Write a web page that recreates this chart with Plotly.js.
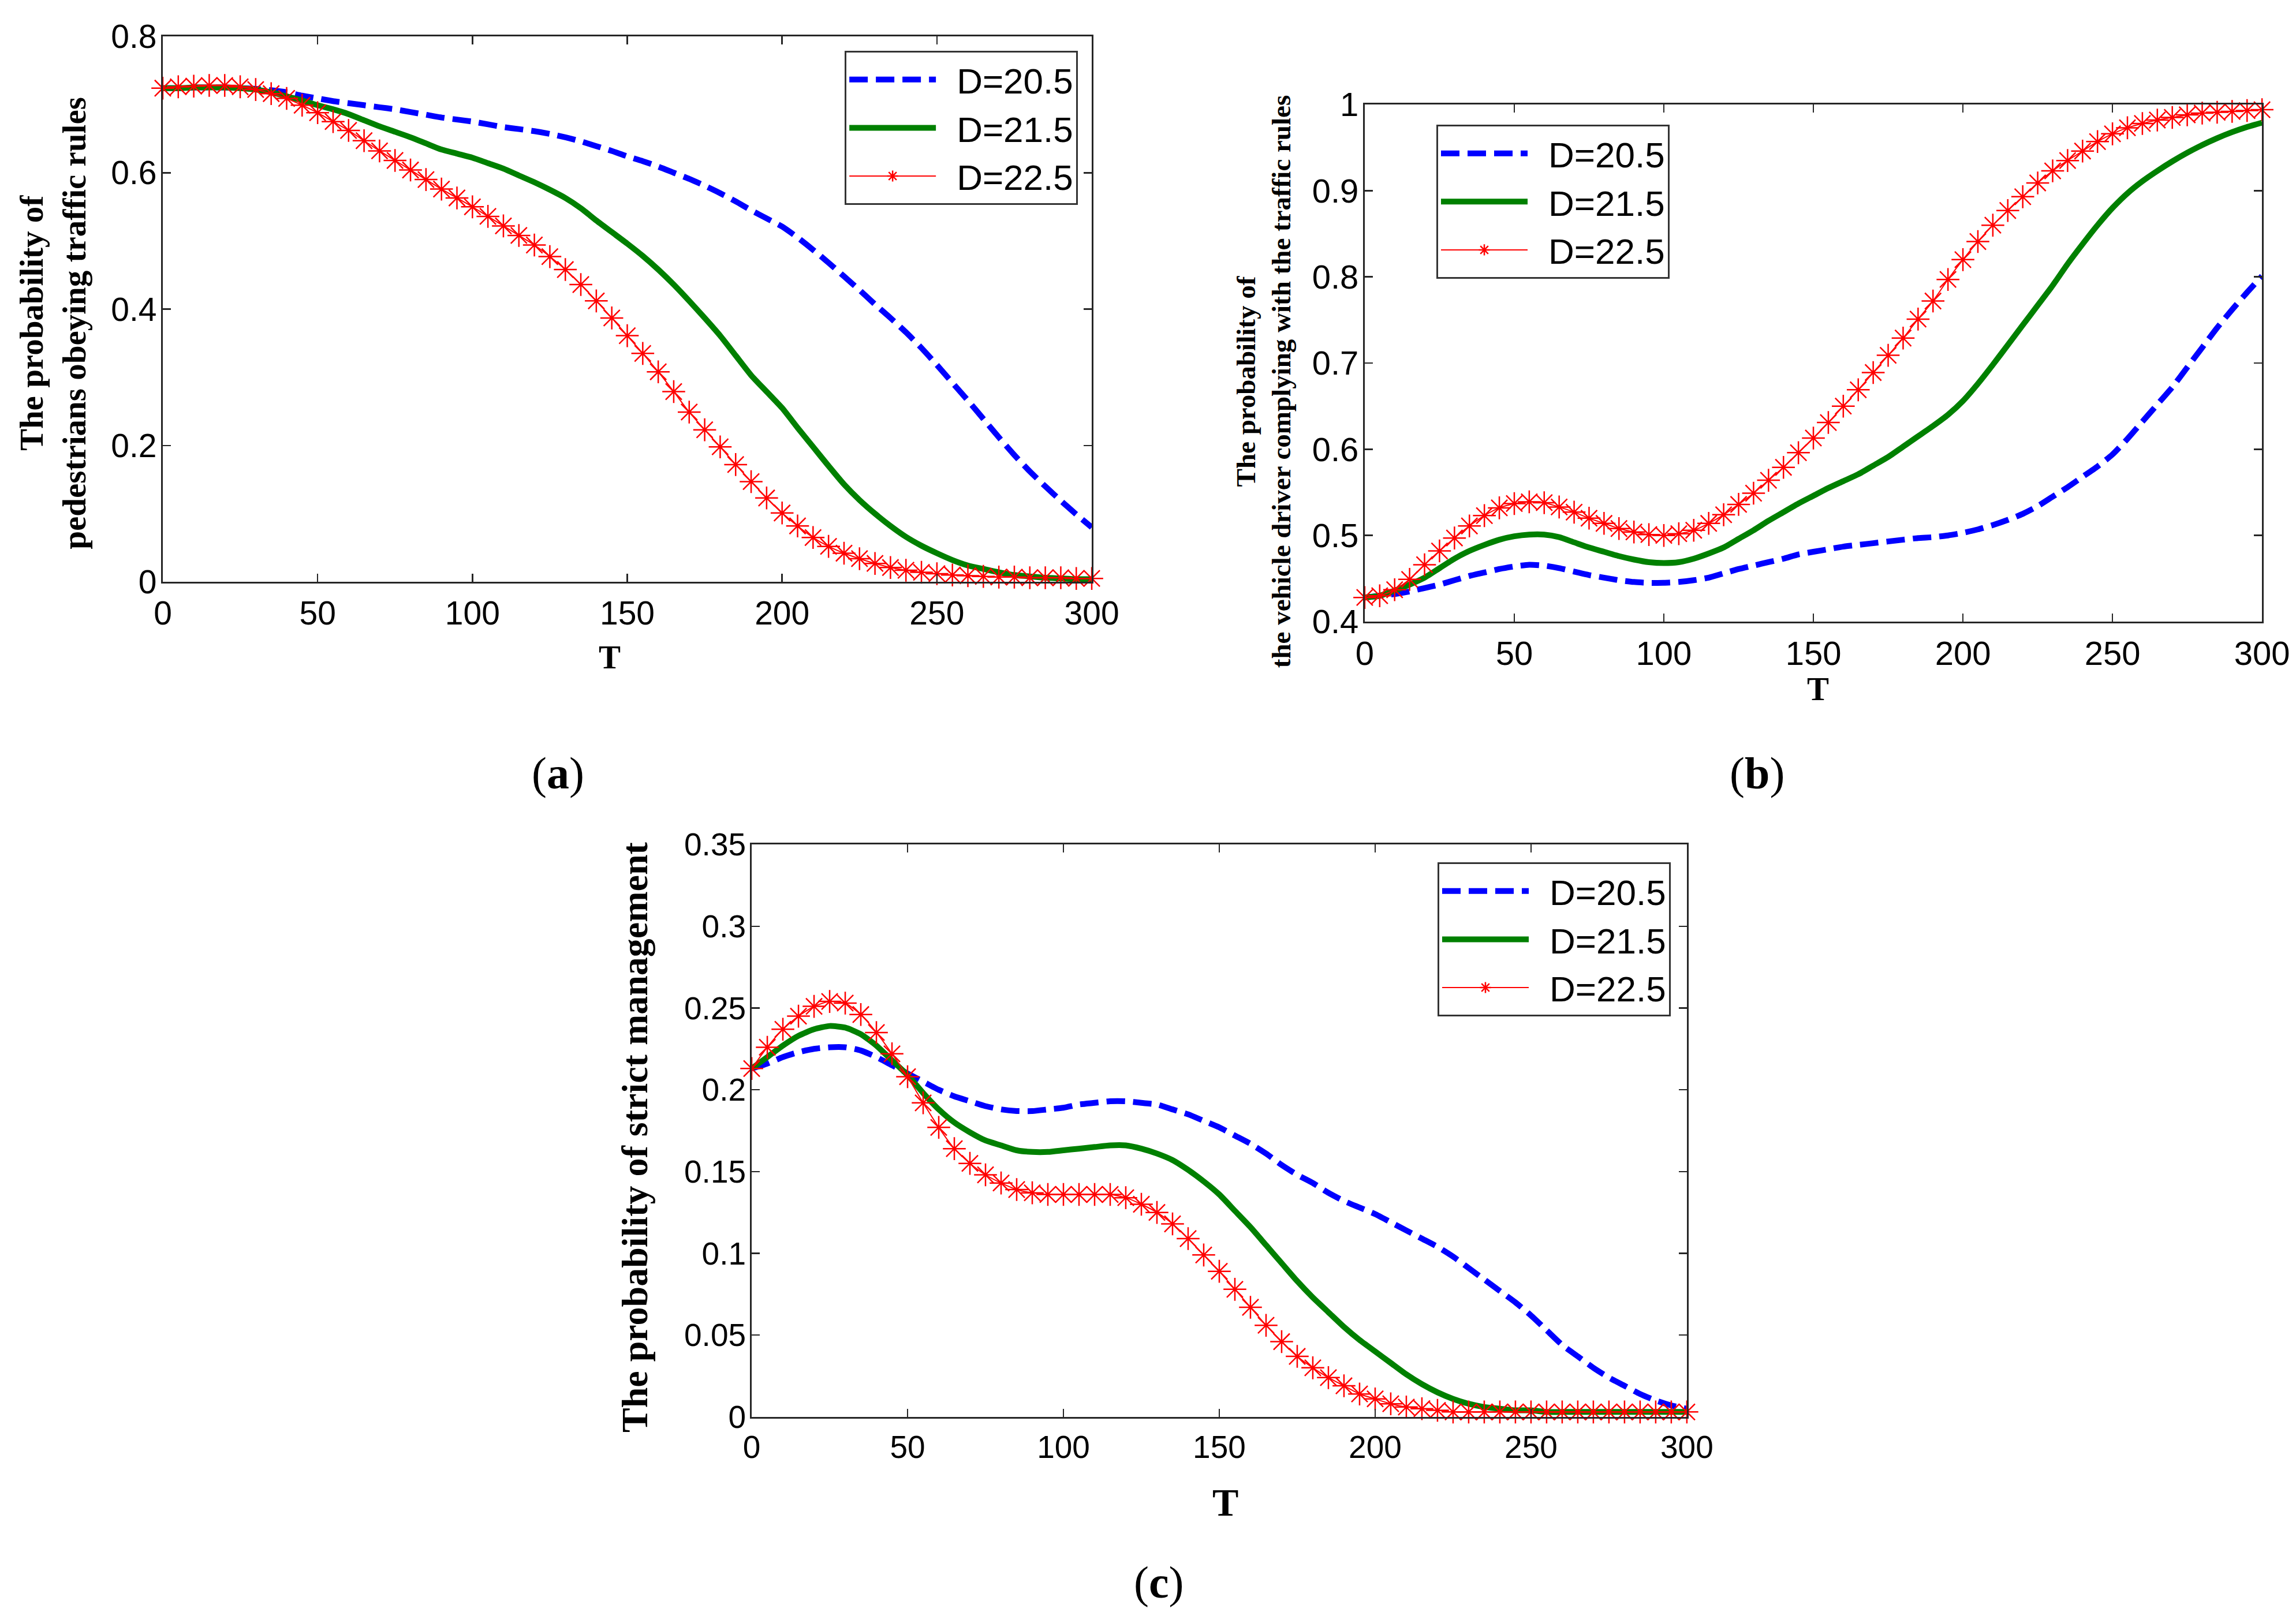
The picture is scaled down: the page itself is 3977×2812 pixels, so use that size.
<!DOCTYPE html>
<html>
<head>
<meta charset="utf-8">
<script src="https://cdn.plot.ly/plotly-3.0.1.min.js"></script>
<style>
  html, body { margin: 0; padding: 0; background: #fff; }
  #fig { width: 3977px; height: 2812px; }
</style>
</head>
<body>
<div id="fig"></div>
<script>
// time axis, read every 5 units
const T = [0,5,10,15,20,25,30,35,40,45,50,55,60,65,70,75,80,85,90,95,100,105,110,115,120,125,130,135,140,145,150,
  155,160,165,170,175,180,185,190,195,200,205,210,215,220,225,230,235,240,245,250,255,260,265,270,275,280,285,290,295,300];
const legendNames = ['D=20.5', 'D=21.5', 'D=22.5'];

// (a) pedestrians obeying traffic rules
const pedD205 = [0.724,0.724,0.725,0.725,0.725,0.724,0.723,0.721,0.718,0.713,0.709,0.705,0.702,0.699,0.696,0.693,0.689,0.685,0.681,0.678,0.675,
  0.671,0.667,0.664,0.661,0.657,0.652,0.646,0.639,0.632,0.624,0.617,0.609,0.600,0.591,0.581,0.570,0.558,0.545,0.533,0.521,
  0.505,0.487,0.468,0.448,0.428,0.407,0.387,0.366,0.343,0.318,0.292,0.266,0.239,0.212,0.186,0.162,0.140,0.119,0.099,0.080];
const pedD215 = [0.724,0.724,0.725,0.725,0.725,0.724,0.722,0.718,0.712,0.706,0.699,0.693,0.686,0.677,0.668,0.660,0.652,0.643,0.634,0.628,0.622,
  0.614,0.606,0.596,0.586,0.575,0.563,0.548,0.530,0.513,0.496,0.478,0.458,0.436,0.412,0.387,0.361,0.332,0.303,0.279,0.255,
  0.226,0.198,0.170,0.143,0.120,0.100,0.082,0.066,0.053,0.042,0.032,0.024,0.019,0.014,0.010,0.008,0.006,0.005,0.004,0.004];
const pedD225 = [0.724,0.726,0.727,0.728,0.728,0.726,0.722,0.716,0.709,0.699,0.688,0.675,0.662,0.647,0.632,0.618,0.604,0.590,0.576,0.563,0.550,
  0.536,0.522,0.508,0.494,0.477,0.458,0.436,0.412,0.387,0.361,0.335,0.308,0.279,0.249,0.223,0.198,0.172,0.147,0.123,0.101,
  0.082,0.065,0.052,0.042,0.034,0.027,0.021,0.017,0.014,0.012,0.010,0.009,0.008,0.007,0.007,0.006,0.006,0.006,0.005,0.005];

// (b) vehicle driver complying with the traffic rules
const drvD205 = [0.428,0.430,0.432,0.435,0.439,0.443,0.448,0.453,0.457,0.461,0.464,0.466,0.465,0.462,0.458,0.454,0.451,0.448,0.446,0.445,0.445,
  0.446,0.448,0.451,0.456,0.461,0.465,0.469,0.473,0.478,0.481,0.484,0.487,0.489,0.491,0.493,0.495,0.497,0.498,0.500,0.503,
  0.507,0.512,0.518,0.525,0.534,0.545,0.556,0.568,0.580,0.594,0.612,0.632,0.652,0.672,0.695,0.718,0.741,0.762,0.782,0.801];
const drvD215 = [0.428,0.430,0.436,0.443,0.451,0.462,0.473,0.482,0.489,0.495,0.499,0.501,0.501,0.498,0.492,0.486,0.481,0.476,0.472,0.469,0.468,
  0.469,0.473,0.479,0.486,0.496,0.506,0.517,0.527,0.537,0.546,0.555,0.563,0.571,0.581,0.591,0.603,0.615,0.627,0.640,0.656,
  0.676,0.698,0.721,0.744,0.767,0.790,0.815,0.838,0.860,0.880,0.897,0.911,0.923,0.934,0.944,0.953,0.961,0.968,0.974,0.979];
const drvD225 = [0.428,0.430,0.437,0.449,0.466,0.482,0.497,0.511,0.523,0.532,0.537,0.539,0.538,0.533,0.527,0.520,0.514,0.508,0.504,0.501,0.500,
  0.502,0.506,0.514,0.524,0.536,0.549,0.564,0.579,0.596,0.613,0.631,0.650,0.669,0.689,0.709,0.729,0.751,0.772,0.797,0.820,
  0.841,0.860,0.877,0.893,0.909,0.923,0.935,0.946,0.957,0.966,0.973,0.978,0.982,0.985,0.988,0.990,0.991,0.992,0.993,0.994];

// (c) strict management
const mgtD205 = [0.213,0.216,0.220,0.223,0.225,0.226,0.226,0.224,0.220,0.215,0.210,0.205,0.200,0.196,0.193,0.190,0.188,0.187,0.187,0.188,0.189,
  0.191,0.192,0.193,0.193,0.192,0.191,0.188,0.185,0.181,0.177,0.172,0.167,0.161,0.154,0.148,0.143,0.137,0.132,0.128,0.124,
  0.119,0.114,0.109,0.104,0.098,0.091,0.084,0.077,0.070,0.062,0.053,0.044,0.037,0.030,0.024,0.019,0.014,0.010,0.007,0.005];
const mgtD215 = [0.213,0.220,0.227,0.233,0.237,0.239,0.238,0.234,0.227,0.218,0.209,0.198,0.188,0.180,0.174,0.169,0.166,0.163,0.162,0.162,0.163,
  0.164,0.165,0.166,0.166,0.164,0.161,0.157,0.151,0.144,0.136,0.126,0.116,0.105,0.094,0.083,0.073,0.064,0.055,0.047,0.040,
  0.033,0.026,0.020,0.015,0.011,0.008,0.006,0.005,0.004,0.004,0.003,0.003,0.003,0.003,0.003,0.003,0.003,0.003,0.003,0.003];
const mgtD225 = [0.213,0.226,0.237,0.245,0.251,0.254,0.253,0.246,0.235,0.222,0.208,0.192,0.177,0.164,0.155,0.148,0.143,0.139,0.137,0.136,0.136,
  0.136,0.136,0.136,0.134,0.130,0.125,0.118,0.109,0.099,0.089,0.078,0.067,0.056,0.046,0.037,0.030,0.024,0.019,0.014,0.011,
  0.008,0.006,0.005,0.004,0.003,0.003,0.003,0.003,0.003,0.003,0.003,0.003,0.003,0.003,0.003,0.003,0.003,0.003,0.003,0.003];

// tick labels
const xTicks = [0,50,100,150,200,250,300];
const aTicks = [0,0.2,0.4,0.6,0.8], aTickText = ['0','0.2','0.4','0.6','0.8'];
const bTicks = [0.4,0.5,0.6,0.7,0.8,0.9,1], bTickText = ['0.4','0.5','0.6','0.7','0.8','0.9','1'];
const cTicks = [0,0.05,0.1,0.15,0.2,0.25,0.3,0.35], cTickText = ['0','0.05','0.1','0.15','0.2','0.25','0.3','0.35'];

const BLUE = '#0000ff', GREEN = '#008000', RED = '#ff0000';
const SANS = 'Liberation Sans, Arial, sans-serif';
const NARROW = 'Liberation Sans Narrow, Arial Narrow, Liberation Sans, Arial, sans-serif';
const SERIF = 'Liberation Serif, Times New Roman, serif';

// the three MATLAB line styles: '--.' blue, '-' green, '-*' red
// (en space in front of the name keeps the text clear of the sample line)
function lineSet(ys, xa, ya, leg) {
  return [
    {x:T, y:ys[0], xaxis:xa, yaxis:ya, legend:leg, name:'\u2002' + legendNames[0], mode:'lines', cliponaxis:false,
     line:{color:BLUE, width:10, dash:'32px,14px', shape:'spline', smoothing:0.6}},
    {x:T, y:ys[1], xaxis:xa, yaxis:ya, legend:leg, name:'\u2002' + legendNames[1], mode:'lines', cliponaxis:false,
     line:{color:GREEN, width:10, shape:'spline', smoothing:0.6}},
    {x:T, y:ys[2], xaxis:xa, yaxis:ya, legend:leg, name:'\u2002' + legendNames[2], mode:'lines+markers', cliponaxis:false,
     line:{color:RED, width:2, shape:'spline', smoothing:0.6},
     marker:{symbol:'asterisk-open', size:33, color:RED, line:{color:RED, width:2.5}}},
  ];
}

const data = [
  ...lineSet([pedD205, pedD215, pedD225], 'x', 'y', 'legend'),
  ...lineSet([drvD205, drvD215, drvD225], 'x2', 'y2', 'legend2'),
  ...lineSet([mgtD205, mgtD215, mgtD225], 'x3', 'y3', 'legend3'),
];

const axBase = (fs) => ({
  showline:true, mirror:'ticks', linecolor:'#262626', linewidth:3,
  ticks:'inside', ticklen:14, tickwidth:2.5, tickcolor:'#262626',
  showgrid:false, zeroline:false, fixedrange:true,
  tickfont:{family:SANS, size:fs, color:'#000'},
});
const xAx = (dom, anchor, fs) => ({...axBase(fs), domain:dom, anchor, range:[0,300],
  tickmode:'array', tickvals:xTicks, ticktext:xTicks.map(String), ticklabelstandoff:2});
const yAx = (dom, anchor, fs, rng, tv, tt) => ({...axBase(fs), domain:dom, anchor, range:rng,
  tickmode:'array', tickvals:tv, ticktext:tt, ticklabelstandoff:-4});

const legBase = (x, y) => ({x, y, xanchor:'left', yanchor:'top', bgcolor:'#fff', bordercolor:'#333',
  borderwidth:3, itemwidth:150, font:{family:NARROW, size:62, color:'#000'}, tracegroupgap:0});

const note = (text, x, y, size, angle) => ({text, x, y, xref:'paper', yref:'paper', showarrow:false,
  xanchor:'center', yanchor:'middle', textangle:angle || 0, font:{family:SERIF, size, color:'#000'}});

const layout = {
  width:3977, height:2812, margin:{l:0, r:0, t:0, b:0},
  paper_bgcolor:'#fff', plot_bgcolor:'#fff', showlegend:true,
  xaxis:  xAx([0.0709,0.4755], 'y', 57),
  yaxis:  yAx([0.6415,0.9776], 'x', 57, [0,0.8], aTicks, aTickText),
  xaxis2: xAx([0.5944,0.9852], 'y2', 58),
  yaxis2: yAx([0.6170,0.9356], 'x2', 58, [0.4,1], bTicks, bTickText),
  xaxis3: xAx([0.3274,0.7347], 'y3', 55),
  yaxis3: yAx([0.1270,0.4797], 'x3', 55, [0,0.35], cTicks, cTickText),
  legend:  legBase(0.3679, 0.9687),
  legend2: legBase(0.6256, 0.9232),
  legend3: legBase(0.6261, 0.4687),
  annotations: [
    note('<b>The probability of<br>pedestrians obeying traffic rules</b>', 0.0231, 0.8009, 57, -90),
    note('<b>The probability of<br>the vehicle driver complying with the traffic rules</b>', 0.5502, 0.7649, 47, -90),
    note('<b>The probability of strict management</b>', 0.2763, 0.2994, 64, -90),
    note('<b>T</b>', 0.2655, 0.5953, 57),
    note('<b>T</b>', 0.7918, 0.5757, 57),
    note('<b>T</b>', 0.5336, 0.0743, 68),
    note('(<b>a</b>)', 0.2431, 0.5235, 78),
    note('(<b>b</b>)', 0.7652, 0.5235, 78),
    note('(<b>c</b>)', 0.5049, 0.0249, 78),
  ],
};

Plotly.newPlot('fig', data, layout, {staticPlot:true, displayModeBar:false});
</script>
</body>
</html>
